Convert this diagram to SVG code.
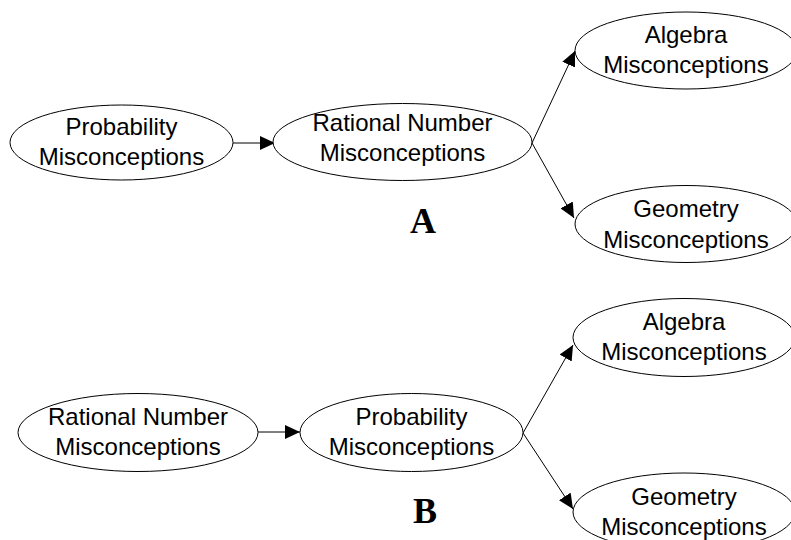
<svg xmlns="http://www.w3.org/2000/svg" width="791" height="540" viewBox="0 0 791 540">
<style>
.n ellipse{fill:#fff;stroke:#000;stroke-width:1}
.n text{font-family:"Liberation Sans",Arial,sans-serif;font-size:24px;fill:#000;text-anchor:middle}
.c line{stroke:#000;stroke-width:1;fill:none}
.lbl{font-family:"Liberation Serif","Times New Roman",serif;font-weight:bold;font-size:36px;text-anchor:middle;fill:#000}
</style>
<defs>
<marker id="ah" markerUnits="userSpaceOnUse" markerWidth="16" markerHeight="14" refX="15" refY="7" orient="auto">
<path d="M0,0 L15,7 L0,14 Z" fill="#000"/>
</marker>
</defs>
<rect width="791" height="540" fill="#fff"/>
<g id="connectors" class="c">
<line x1="233" y1="143" x2="275" y2="143" marker-end="url(#ah)"/>
<line x1="532" y1="143" x2="575" y2="51" marker-end="url(#ah)"/>
<line x1="532" y1="143" x2="574" y2="218" marker-end="url(#ah)"/>
<line x1="258" y1="432" x2="300" y2="432" marker-end="url(#ah)"/>
<line x1="523" y1="433" x2="573" y2="345" marker-end="url(#ah)"/>
<line x1="523" y1="433" x2="573" y2="509" marker-end="url(#ah)"/>
</g>
<g id="a-probability" class="n">
<ellipse cx="121.5" cy="142.5" rx="111.5" ry="37.5"/>
<text x="121.5" y="135">Probability</text>
<text x="121.5" y="165">Misconceptions</text>
</g>
<g id="a-rational" class="n">
<ellipse cx="402.5" cy="142" rx="129.5" ry="38.5"/>
<text x="402.5" y="131">Rational Number</text>
<text x="402.5" y="161">Misconceptions</text>
</g>
<g id="a-algebra" class="n">
<ellipse cx="686" cy="50.5" rx="111" ry="38.5"/>
<text x="686" y="43">Algebra</text>
<text x="686" y="73">Misconceptions</text>
</g>
<g id="a-geometry" class="n">
<ellipse cx="686" cy="224" rx="111" ry="38.5"/>
<text x="686" y="217">Geometry</text>
<text x="686" y="248">Misconceptions</text>
</g>
<text class="lbl" x="423" y="233">A</text>
<g id="b-rational" class="n">
<ellipse cx="138" cy="432.5" rx="120" ry="39"/>
<text x="138" y="425">Rational Number</text>
<text x="138" y="455">Misconceptions</text>
</g>
<g id="b-probability" class="n">
<ellipse cx="411.5" cy="432.5" rx="111.5" ry="39"/>
<text x="411.5" y="425">Probability</text>
<text x="411.5" y="455">Misconceptions</text>
</g>
<g id="b-algebra" class="n">
<ellipse cx="684" cy="337.5" rx="111" ry="39"/>
<text x="684" y="330">Algebra</text>
<text x="684" y="360">Misconceptions</text>
</g>
<g id="b-geometry" class="n">
<ellipse cx="684" cy="512" rx="111" ry="39"/>
<text x="684" y="505">Geometry</text>
<text x="684" y="535">Misconceptions</text>
</g>
<text class="lbl" x="425" y="523">B</text>
</svg>
